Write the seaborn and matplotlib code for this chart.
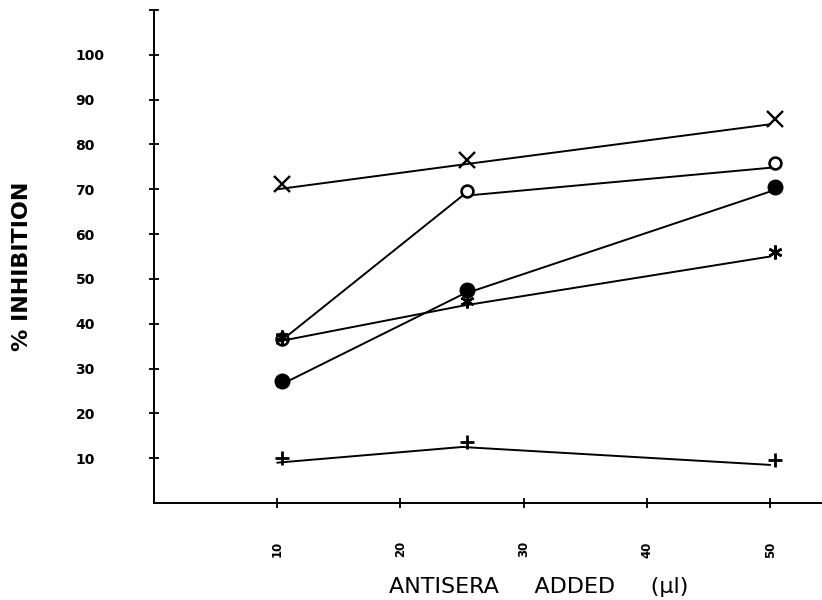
import numpy as np
import pandas as pd
import matplotlib
matplotlib.use("Agg")
import matplotlib.pyplot as plt
import matplotlib.transforms as mtransforms
import seaborn as sns

# ---- data ----
antisera_ul = [10, 25, 50]
inhibition_cross = [70.0, 75.5, 84.5]
inhibition_open_circle = [35.5, 68.5, 74.8]
inhibition_filled_circle = [26.0, 46.5, 69.5]
inhibition_asterisk = [36.0, 44.0, 55.0]
inhibition_plus = [9.0, 12.5, 8.5]

y_ticks = [10, 20, 30, 40, 50, 60, 70, 80, 90, 100]
y_tick_labels = ["10", "20", "30", "40", "50", "60", "70", "80", "90", "100"]
x_ticks = [10, 20, 30, 40, 50]
x_tick_labels = ["10", "20", "30", "40", "50"]

x_label = "ANTISERA     ADDED     (\u03bcl)"
y_label = "% INHIBITION"

# ---- style ----
sns.set_theme(style="white")
plt.rcParams["font.family"] = ["DejaVu Sans"]
plt.rcParams["text.color"] = "black"
plt.rcParams["axes.labelcolor"] = "black"
plt.rcParams["xtick.color"] = "black"
plt.rcParams["ytick.color"] = "black"

W, H, DPI = 822, 600, 100
fig = plt.figure(figsize=(W / DPI, H / DPI), dpi=DPI)
ax = fig.add_axes([154 / W, 97 / H, 668 / W, 493 / H])

series = [
    (inhibition_cross, dict(marker="x", markersize=11, markeredgewidth=1.7,
                             markerfacecolor="black", markeredgecolor="black")),
    (inhibition_open_circle, dict(marker="o", markersize=8.5, markeredgewidth=1.9,
                                   markerfacecolor="white", markeredgecolor="black")),
    (inhibition_filled_circle, dict(marker="o", markersize=10.5, markeredgewidth=1.0,
                                     markerfacecolor="black", markeredgecolor="black")),
    (inhibition_asterisk, dict(marker=(6, 2, 0), markersize=10, markeredgewidth=1.8,
                                markerfacecolor="black", markeredgecolor="black")),
    (inhibition_plus, dict(marker="+", markersize=10, markeredgewidth=2.0,
                            markerfacecolor="black", markeredgecolor="black")),
]

# marker symbols sit slightly right of / above the line vertices (plotter offset)
marker_shift = mtransforms.ScaledTranslation(5 / DPI, 5 / DPI, fig.dpi_scale_trans)

for values, mkw in series:
    df = pd.DataFrame({"x": antisera_ul, "y": values})
    sns.lineplot(data=df, x="x", y="y", ax=ax, color="black", linewidth=1.4,
                 sort=False, estimator=None)
    n_before = len(ax.lines)
    sns.lineplot(data=df, x="x", y="y", ax=ax, color="black", linestyle="",
                 sort=False, estimator=None, **mkw)
    for ln in ax.lines[n_before:]:
        ln.set_transform(ax.transData + marker_shift)
        ln.set_clip_on(False)

ax.set_xlim(0, 54.2)
ax.set_ylim(0, 110)

for side in ["top", "right"]:
    ax.spines[side].set_visible(False)
for side in ["left", "bottom"]:
    ax.spines[side].set_color("black")
    ax.spines[side].set_linewidth(1.4)

ax.set_yticks(y_ticks + [110])
ax.set_yticklabels(y_tick_labels + [""], fontsize=10, fontweight="bold",
                   family="DejaVu Sans")
ax.set_xticks(x_ticks)
ax.set_xticklabels(x_tick_labels, fontsize=8.5, fontweight="bold", rotation=90,
                   family="DejaVu Sans")

ax.tick_params(axis="y", direction="inout", length=7, width=1.3, color="black",
               pad=53, left=True)
ax.tick_params(axis="x", direction="inout", length=7, width=1.3, color="black",
               pad=24, bottom=True)
for lab in ax.get_yticklabels():
    lab.set_horizontalalignment("left")

ax.set_xlabel(x_label, fontsize=16)
ax.xaxis.set_label_coords(0.576, -0.150)
ax.set_ylabel(y_label, fontsize=16, fontweight="bold")
ax.yaxis.set_label_coords(-0.183, 0.481)

ax.grid(False)
fig.savefig("out.png", dpi=DPI, facecolor="white")
